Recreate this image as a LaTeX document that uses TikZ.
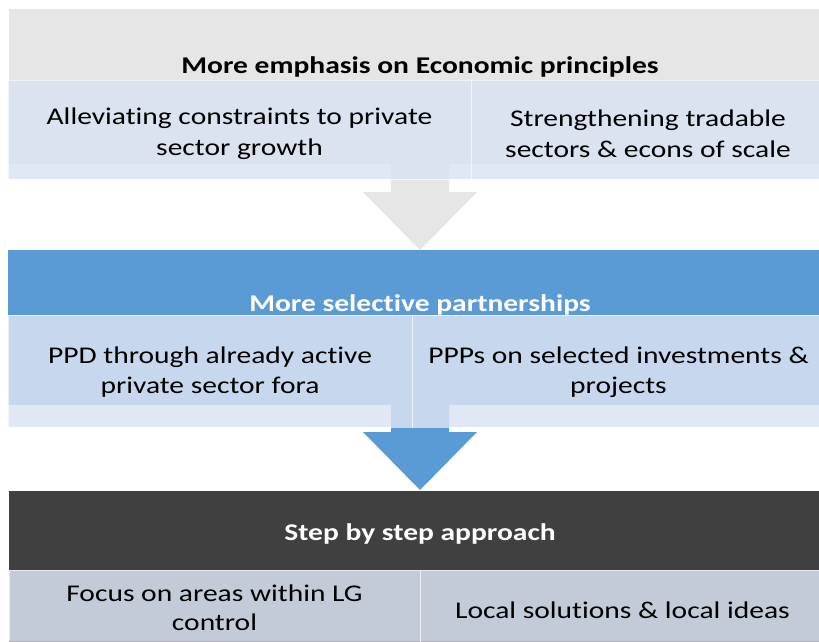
\documentclass[tikz,border=0pt]{standalone}
\usepackage{fontspec}
\setmainfont{Carlito}[FakeStretch=1.23, Ligatures=NoCommon]

\definecolor{hdrgray}{HTML}{E7E6E6}
\definecolor{hdrblue}{HTML}{5B9BD5}
\definecolor{hdrdark}{HTML}{404040}
\definecolor{itemblue}{HTML}{DAE3F3}

\tikzset{
  band/.style={anchor=north west, inner sep=0pt, outer sep=0pt},
  item/.style={anchor=north west, inner sep=0pt, outer sep=0pt,
    fill=itemblue, fill opacity=0.85, draw=white, draw opacity=0.6, line width=1pt},
  itemtext/.style={inner sep=0pt, align=center, font=\fontsize{24}{31}\selectfont},
  heading/.style={anchor=base, inner sep=0pt, font=\bfseries\fontsize{24}{28}\selectfont},
}

\begin{document}
\begin{tikzpicture}[x=1pt, y=-1pt]
  \useasboundingbox (0,0) rectangle (819,641);
  \clip (0,0) rectangle (819,641);

  % header bands
  \node[band, fill=hdrgray, minimum width=816, minimum height=155] (econ) at (9,9) {};
  \node[band, fill=hdrblue, minimum width=817, minimum height=155] (part) at (8,250) {};
  \node[band, fill=hdrdark, minimum width=816, minimum height=175] (step) at (9,491) {};

  % block arrows between the bands
  \fill[hdrgray] (391,164) -- (449,164) -- (449,192) -- (477,192)
    -- (420,250) -- (363,192) -- (391,192) -- cycle;
  \fill[hdrblue] (391,405) -- (449,405) -- (449,432) -- (477,432)
    -- (420,490) -- (363,432) -- (391,432) -- cycle;

  % band titles
  \node[heading] (econT) at (420,73) {More emphasis on Economic principles};
  \node[heading, text=white] (partT) at (420,311) {More selective partnerships};
  \node[heading, text=white] (stepT) at (420,540) {Step by step approach};

  % item boxes
  \node[item, minimum width=463, minimum height=99] (econA) at (8,80) {};
  \node[item, minimum width=354, minimum height=99] (econB) at (471,80) {};
  \node[item, minimum width=404, minimum height=112] (partA) at (8,315) {};
  \node[item, minimum width=413, minimum height=112] (partB) at (412,315) {};
  \node[item, minimum width=411, minimum height=71] (stepA) at (9,570) {};
  \node[item, minimum width=405, minimum height=71] (stepB) at (420,570) {};

  % item texts
  \node[itemtext] (econAt) at ([yshift=-4pt]econA.center)
    {Alleviating constraints to private\\sector growth};
  \node[itemtext] (econBt) at ([yshift=-4pt]econB.center)
    {Strengthening tradable\\sectors \& econs of scale};
  \node[itemtext, font=\fontsize{24}{30}\selectfont] (partAt) at ([yshift=-1pt]partA.center)
    {PPD through already active\\private sector fora};
  \node[itemtext, font=\fontsize{24}{30}\selectfont] (partBt) at ([yshift=-1pt]partB.center)
    {PPPs on selected investments \&\\projects};
  \node[itemtext, font=\fontsize{24}{29}\selectfont] (stepAt) at ([yshift=-2pt]stepA.center)
    {Focus on areas within LG\\control};
  \node[itemtext] (stepBt) at ([yshift=-5pt]stepB.center)
    {Local solutions \& local ideas};
\end{tikzpicture}
\end{document}
